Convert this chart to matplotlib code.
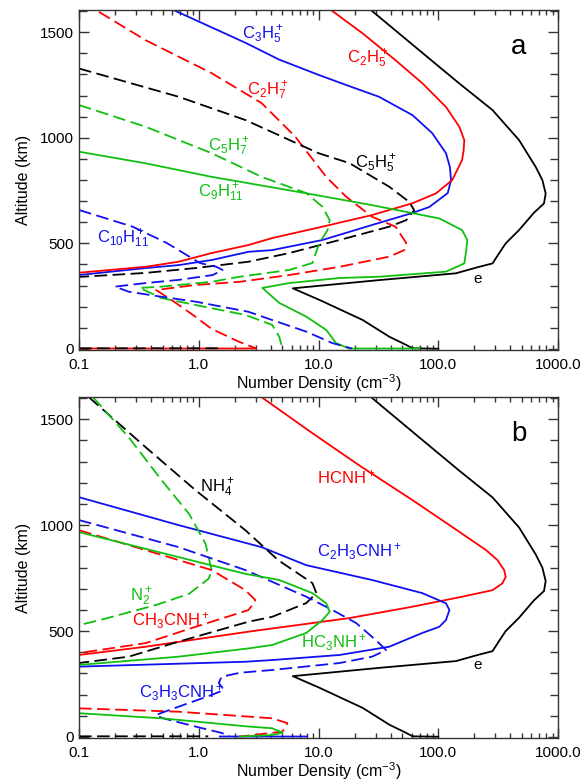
import numpy as np
import matplotlib
matplotlib.use("Agg")
import matplotlib.pyplot as plt
from matplotlib.ticker import MultipleLocator, LogLocator, NullFormatter

plt.rcParams['font.family'] = ['Liberation Sans', 'DejaVu Sans']
plt.rcParams['mathtext.fontset'] = 'custom'
plt.rcParams['mathtext.rm'] = 'Liberation Sans'
plt.rcParams['mathtext.it'] = 'Liberation Sans'

RED = '#ff0000'
BLUE = '#1010f0'
GREEN = '#10c010'
BLACK = '#000000'
nan = np.nan

# electron density (same profile in both panels)
e_n = [27.5, 69.5, 150, 284, 473, 651, 740, 789, 764, 630, 473, 366, 322, 284, 220, 140, 32, 6.1, 10.2, 23.4, 39, 54, 61, 100]
e_alt = [1604, 1414, 1257, 1131, 989, 862, 800, 736, 689, 645, 563, 500, 453, 405, 389, 358, 326, 287, 232, 137, 58, 19, 3, 1]

# ---- panel a : hydrocarbon ions ----
c3h5_n = [0.62, 2.45, 4.7, 10, 17, 32, 61, 89, 116, 125, 128, 120, 84, 61, 28, 10.8, 4.1, 2.6, 1.28, 0.68, 0.36, 0.1]
c3h5_alt = [1604, 1450, 1370, 1298, 1250, 1194, 1107, 1022, 927, 862, 800, 738, 672, 644, 587, 516, 468, 460, 421, 397, 383, 350]

c2h5_n = [12.8, 23.4, 44, 74, 116, 150, 165, 163, 158, 131, 96, 61, 28, 10.8, 4.1, 2.6, 1.28, 0.68, 0.36, 0.1, nan, 0.1, 3.0]
c2h5_alt = [1604, 1494, 1367, 1257, 1146, 1052, 989, 940, 894, 800, 737, 690, 634, 579, 525, 492, 454, 413, 389, 361, nan, 2, 2]

c2h7_n = [0.147, 0.36, 1.28, 3.35, 6.4, 10, 11.6, 17, 28, 44, 54, 52, 39, 15, 5.7, 2.2, 0.94, 0.44, 0.6, 0.9, 1.28, 2.15, 3.0]
c2h7_alt = [1596, 1462, 1306, 1164, 1005, 862, 815, 721, 626, 579, 502, 468, 437, 389, 350, 318, 303, 279, 230, 160, 95, 35, 3]

c5h5_n = [0.1, 0.68, 2.45, 10, 18.1, 39, 57, 63, 54, 39, 15, 5.7, 2.6, 0.94, 0.36, 0.1, nan, 0.1, 1.5]
c5h5_alt = [1328, 1194, 1084, 927, 880, 768, 697, 657, 610, 579, 516, 454, 413, 383, 360, 341, nan, 3, 3]

c5h7_n = [0.1, 0.36, 1.28, 3.35, 7.9, 10.8, 12.4, 11.9, 10.2, 9.5, 8.9, 5.7, 2.2, 1.28, 0.49, 0.32, 0.49, 0.94, 2.45, 4.1, 4.7, 5.0]
c5h7_alt = [1155, 1052, 927, 815, 738, 673, 610, 563, 502, 454, 407, 374, 342, 318, 295, 289, 241, 208, 161, 114, 58, 2]

c9h11_n = [0.1, 0.36, 1.28, 2.2, 7.9, 28, 102, 158, 175, 170, 165, 116, 32, 15, 5.7, 3.4, 4.7, 7.9, 11.6, 14, 18, 70]
c9h11_alt = [934, 879, 815, 792, 737, 681, 618, 563, 516, 454, 405, 366, 342, 336, 312, 289, 218, 153, 90, 28, 2, 2]

c10h11_n = [0.1, 0.28, 0.54, 1.02, 1.4, 1.58, 1.31, 0.68, 0.36, 0.2, 0.26, 0.49, 0.94, 2.6, 4.1, 7.9, 13, 19]
c10h11_alt = [658, 579, 502, 407, 389, 374, 350, 327, 312, 295, 271, 247, 224, 176, 137, 82, 28, 2]

# ---- panel b : nitrogen bearing ions ----
hcnh_n = [3.35, 8.9, 23, 61, 131, 251, 312, 355, 366, 343, 284, 158, 61, 18, 2.6, 0.36, 0.1]
hcnh_alt = [1604, 1434, 1274, 1118, 991, 882, 835, 788, 756, 725, 693, 662, 615, 561, 497, 426, 387]

c2h3cnh_n = [0.1, 0.68, 3.35, 7.9, 28, 73.6, 116, 124, 116, 102, 73.6, 39, 15, 4.1, 2.45, 0.1, nan, 1.5, 8.0]
c2h3cnh_alt = [1132, 1000, 896, 811, 741, 679, 631, 599, 552, 520, 491, 426, 387, 363, 355, 332, nan, 2, 2]

nh4_n = [0.121, 0.36, 0.94, 2.45, 4.6, 8.9, 9.6, 7.9, 4.1, 2.6, 0.68, 0.26, 0.1, nan, 0.1, 1.2]
nh4_alt = [1604, 1368, 1165, 976, 835, 726, 679, 632, 567, 544, 450, 379, 349, nan, 3, 3]

n2_n = [0.131, 0.26, 0.49, 0.83, 1.14, 1.28, 1.21, 0.83, 0.44, 0.15, 0.1]
n2_alt = [1604, 1415, 1212, 1053, 912, 788, 747, 676, 623, 552, 528]

ch3cnh_n = [0.1, 0.36, 1.28, 2.45, 2.97, 2.8, 2.6, 0.94, 0.36, 0.1, nan, 0.1, 0.68, 2.6, 4.1, 5.5, 5.0, 2.2]
ch3cnh_alt = [976, 882, 788, 693, 646, 623, 599, 520, 443, 396, nan, 135, 119, 96, 88, 65, 25, 2]

c3h3cnh_n = [0.1, 0.68, 2.45, 7.9, 13.1, 20.6, 30, 36.7, 28, 15, 4.1, 2.2, 1.55, 1.47, 1.62, 1.28, 0.68, 0.44, 0.49, 0.94, 1.55, 1.8]
c3h3cnh_alt = [1024, 896, 788, 662, 599, 538, 458, 410, 379, 349, 316, 303, 284, 255, 222, 198, 143, 104, 90, 49, 19, 4]

hc3nh_n = [0.1, 0.68, 2.45, 4.7, 8.9, 11.6, 12.4, 10.8, 7.9, 4.1, 2.6, 0.68, 0.1, nan, 0.1, 0.49, 2.6, 4.1, 5.0, 4.1, 2.2]
hc3nh_alt = [967, 849, 770, 741, 679, 631, 591, 552, 491, 434, 418, 379, 340, nan, 112, 88, 49, 41, 20, 9, 2]

panel_a = [
    (e_n, e_alt, BLACK, False),
    (c3h5_n, c3h5_alt, BLUE, False),
    (c2h5_n, c2h5_alt, RED, False),
    (c2h7_n, c2h7_alt, RED, True),
    (c5h5_n, c5h5_alt, BLACK, True),
    (c5h7_n, c5h7_alt, GREEN, True),
    (c9h11_n, c9h11_alt, GREEN, False),
    (c10h11_n, c10h11_alt, BLUE, True),
]
panel_b = [
    (e_n, e_alt, BLACK, False),
    (hcnh_n, hcnh_alt, RED, False),
    (c2h3cnh_n, c2h3cnh_alt, BLUE, False),
    (nh4_n, nh4_alt, BLACK, True),
    (n2_n, n2_alt, GREEN, True),
    (ch3cnh_n, ch3cnh_alt, RED, True),
    (c3h3cnh_n, c3h3cnh_alt, BLUE, True),
    (hc3nh_n, hc3nh_alt, GREEN, False),
]

# label text, x (density), altitude, colour
labels_a = [
    (r'$\mathregular{C_3H_5^+}$', 2.28, 1486, BLUE),
    (r'$\mathregular{C_2H_5^+}$', 17.4, 1372, RED),
    (r'$\mathregular{C_2H_7^+}$', 2.51, 1222, RED),
    (r'$\mathregular{C_5H_7^+}$', 1.19, 956, GREEN),
    (r'$\mathregular{C_5H_5^+}$', 20, 876, BLACK),
    (r'$\mathregular{C_9H_{11}^+}$', 0.98, 741, GREEN),
    (r'$\mathregular{C_{10}H_{11}^+}$', 0.141, 521, BLUE),
]
labels_b = [
    (r'$\mathregular{NH_4^+}$', 1.02, 1175, BLACK),
    (r'$\mathregular{HCNH^+}$', 9.8, 1226, RED),
    (r'$\mathregular{C_2H_3CNH^+}$', 9.8, 877, BLUE),
    (r'$\mathregular{N_2^+}$', 0.266, 660, GREEN),
    (r'$\mathregular{CH_3CNH^+}$', 0.277, 547, RED),
    (r'$\mathregular{HC_3NH^+}$', 7.2, 443, GREEN),
    (r'$\mathregular{C_3H_3CNH^+}$', 0.32, 208, BLUE),
]

W, H = 587, 783
fig = plt.figure(figsize=(W / 100, H / 100), dpi=100)
ax_a = fig.add_axes([79 / W, 1 - 350 / H, 479 / W, 340 / H])
ax_b = fig.add_axes([79 / W, 1 - 738 / H, 479 / W, 341 / H])

for ax, curves, labels, tag in [(ax_a, panel_a, labels_a, 'a'), (ax_b, panel_b, labels_b, 'b')]:
    for n, alt, col, dashed in curves:
        ls = (0, (7, 3)) if dashed else '-'
        ax.plot(n, alt, color=col, lw=1.3, ls=ls)
    for txt, x, y, col in labels:
        ax.text(x, y, txt, color=col, fontsize=12, ha='left', va='center')
    ax.text(215, 330 if tag == 'a' else 340, 'e', fontsize=11, ha='center', va='center')
    ax.text(470, 1430, tag, fontsize=20, ha='center', va='center')

    ax.set_xscale('log')
    ax.set_xlim(0.1, 1000)
    ax.set_ylim(-5, 1605)
    ax.set_xticks([0.1, 1, 10, 100, 1000])
    ax.set_xticklabels(['0.1', '1.0', '10.0', '100.0', '1000.0'])
    ax.xaxis.set_minor_locator(LogLocator(base=10, subs=np.arange(2, 10)))
    ax.xaxis.set_minor_formatter(NullFormatter())
    ax.set_yticks([0, 500, 1000, 1500])
    ax.yaxis.set_minor_locator(MultipleLocator(100))
    ax.tick_params(which='both', direction='in', top=True, right=True,
                   labelsize=11, color='#333333', width=1)
    ax.tick_params(axis='x', which='major', length=7, pad=6)
    ax.tick_params(axis='x', which='minor', length=3.5)
    ax.tick_params(axis='y', which='major', length=7, pad=4)
    ax.tick_params(axis='y', which='minor', length=5.5)
    for sp in ax.spines.values():
        sp.set_color('#333333')
        sp.set_linewidth(1)
    ax.set_xlabel(r'Number Density (cm$^{-3}$)', fontsize=11.5, labelpad=0)
    ax.set_ylabel('Altitude (km)', fontsize=11.5, labelpad=6)

fig.savefig('out.png', dpi=100)
